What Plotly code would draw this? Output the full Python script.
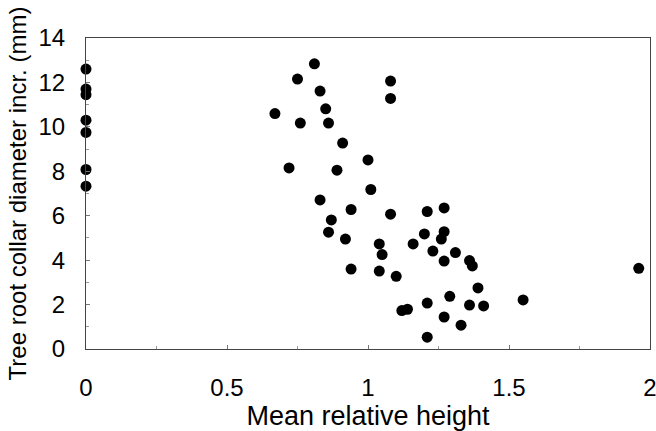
import plotly.graph_objects as go

# Mean relative height (x) and tree root collar diameter increment in mm (y)
mean_rel_height = [
    0, 0, 0, 0, 0, 0, 0,
    0.81, 0.75, 1.08, 0.83, 1.08, 0.85, 0.67, 0.76, 0.86, 0.91,
    1.00, 0.72, 0.89, 1.01, 0.83, 0.94, 1.08, 1.21, 1.27, 0.87,
    0.86, 0.92, 1.04, 1.16, 1.20, 1.27, 1.26, 1.05, 1.23, 1.31,
    1.27, 1.36, 1.37, 0.94, 1.04, 1.10, 1.96, 1.39, 1.29, 1.55,
    1.21, 1.36, 1.41, 1.12, 1.14, 1.27, 1.33, 1.21,
]
diameter_incr = [
    12.6, 11.7, 11.45, 10.3, 9.75, 8.08, 7.33,
    12.84, 12.15, 12.06, 11.61, 11.28, 10.81, 10.6, 10.17, 10.17, 9.27,
    8.51, 8.15, 8.05, 7.18, 6.71, 6.28, 6.07, 6.19, 6.35, 5.81,
    5.26, 4.95, 4.73, 4.73, 5.18, 5.28, 4.95, 4.25, 4.41, 4.34,
    3.96, 3.98, 3.74, 3.60, 3.51, 3.27, 3.63, 2.75, 2.37, 2.21,
    2.07, 1.98, 1.94, 1.73, 1.79, 1.44, 1.07, 0.53,
]

x_ticks = [0, 0.5, 1, 1.5, 2]
x_tick_text = ["0", "0.5", "1", "1.5", "2"]
y_ticks = [0, 2, 4, 6, 8, 10, 12, 14]

fig = go.Figure()
fig.add_trace(go.Scatter(
    x=mean_rel_height, y=diameter_incr, mode="markers",
    marker=dict(symbol="circle", size=11, color="black", line=dict(width=0)),
    showlegend=False, cliponaxis=False, hoverinfo="skip",
))

font_family = "Liberation Sans, Arial, sans-serif"
fig.update_layout(
    width=656, height=431,
    margin=dict(l=86, r=6, t=38, b=82),
    paper_bgcolor="white", plot_bgcolor="white",
    font=dict(family=font_family, color="black"),
)
fig.update_xaxes(
    range=[0, 2], tickvals=x_ticks, ticktext=x_tick_text,
    showgrid=False, zeroline=False, automargin=False,
    showline=True, mirror=True, linecolor="#444", linewidth=1.2,
    ticks="inside", ticklen=4, tickcolor="#777",
    tickfont=dict(size=24, family=font_family), ticklabelstandoff=17,
    ticklabeloverflow="allow",
    minor=dict(dtick=0.25, ticks="inside", ticklen=3, tickcolor="#999"),
    title=dict(text="Mean relative height", font=dict(size=27, family=font_family), standoff=2),
)
fig.update_yaxes(
    range=[0, 14], tickvals=y_ticks,
    showgrid=False, zeroline=False, automargin=False,
    showline=True, mirror=True, linecolor="#444", linewidth=1.2,
    ticks="inside", ticklen=4, tickcolor="#777",
    tickfont=dict(size=24, family=font_family), ticklabelstandoff=15,
    minor=dict(dtick=1, ticks="inside", ticklen=3, tickcolor="#999"),
    title=dict(text="Tree root collar diameter incr. (mm)", font=dict(size=24, family=font_family), standoff=4),
)

# remove the browser's default 8px body margin so the figure fills the window exactly
fig.write_html(
    "out.html",
    config={"displayModeBar": False},
    post_script="document.body.style.margin='0';document.body.style.overflow='hidden';",
)
